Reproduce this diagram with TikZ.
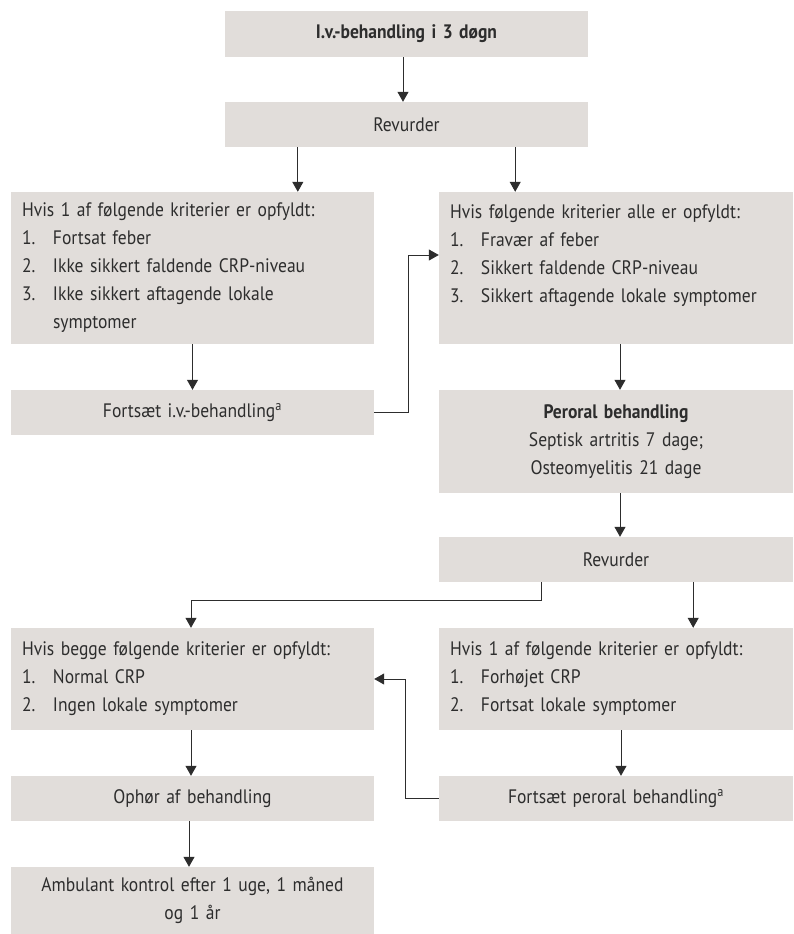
\documentclass[tikz,border=0pt]{standalone}
\usepackage{fontspec}
\setmainfont[FakeStretch=0.9]{PT Sans}
\usetikzlibrary{arrows.meta}
\definecolor{boxgray}{RGB}{225,221,218}
\definecolor{ink}{RGB}{45,45,45}
\newcommand\litem[1]{\makebox[31pt][l]{#1}}
\begin{document}
\begin{tikzpicture}[x=1pt,y=-1pt,
  every node/.style={text=ink, font=\fontsize{19.5}{28}\selectfont},
  wbox/.style={fill=boxgray, inner xsep=11pt, inner ysep=0pt, text width=341pt, minimum height=#1},
  nbox/.style={fill=boxgray, inner xsep=11pt, inner ysep=0pt, text width=332pt, minimum height=#1},
  arr/.style={draw=ink, line width=1pt, -{Triangle[width=11pt,length=10pt]}}]
\useasboundingbox (0,0) rectangle (793,934);

\node[wbox=46pt, align=center] (top) at (406.5,34) {\textbf{I.v.-behandling i 3 døgn}};
\node[wbox=45pt, align=center] (rev1) at (406.5,124.5) {Revurder};

\node[wbox=152pt, align=left] (L1) at (192.5,268) {Hvis 1 af følgende kriterier er opfyldt:\\
\litem{1.}Fortsat feber\\
\litem{2.}Ikke sikkert faldende CRP-niveau\\
\litem{3.}Ikke sikkert aftagende lokale\\
\litem{}symptomer};

\node[nbox=152pt, align=left] (R1) at (616,268) {Hvis følgende kriterier alle er opfyldt:\\
\litem{1.}Fravær af feber\\
\litem{2.}Sikkert faldende CRP-niveau\\
\litem{3.}Sikkert aftagende lokale symptomer\\
\mbox{}};

\node[wbox=45pt, align=center] (Fiv) at (192.5,412.5) {Fortsæt i.v.-behandling\textsuperscript{a}};

\node[nbox=103pt, align=center] (Per) at (616,441.5) {\textbf{Peroral behandling}\\
Septisk artritis 7 dage;\\
Osteomyelitis 21 dage};

\node[nbox=45pt, align=center] (Rev2) at (616,559.5) {Revurder};

\node[wbox=102pt, align=left] (L2) at (192.5,679) {Hvis begge følgende kriterier er opfyldt:\\
\litem{1.}Normal CRP\\
\litem{2.}Ingen lokale symptomer};

\node[nbox=102pt, align=left] (R2) at (616,679) {Hvis 1 af følgende kriterier er opfyldt:\\
\litem{1.}Forhøjet CRP\\
\litem{2.}Fortsat lokale symptomer};

\node[wbox=45pt, align=center] (Oph) at (192.5,798.5) {Ophør af behandling};
\node[nbox=45pt, align=center] (FPer) at (616,798.5) {Fortsæt peroral behandling\textsuperscript{a}};

\node[wbox=67pt, align=center] (Amb) at (192.5,900.5) {Ambulant kontrol efter 1 uge, 1 måned\\
og 1 år};

% connectors
\draw[arr] ([xshift=-3.5pt]top.south) -- ([xshift=-3.5pt]rev1.north);
\draw[arr] ([xshift=73pt]rev1.south west) -- ([xshift=73pt]rev1.south west |- L1.north);
\draw[arr] ([xshift=-73pt]rev1.south east) -- ([xshift=-73pt]rev1.south east |- R1.north);
\draw[arr] (L1.south) -- (Fiv.north);
\draw[arr] ([xshift=4pt]R1.south) -- ([xshift=4pt]Per.north);
\draw[arr] (Fiv.east) -- ++(34,0) |- ([yshift=13pt]R1.west);
\draw[arr] ([xshift=4pt]Per.south) -- ([xshift=4pt]Rev2.north);
\draw[arr] ([xshift=103pt]Rev2.south west) -- ++(0,18) -| ([xshift=-1.5pt]L2.north);
\draw[arr] ([xshift=-100pt]Rev2.south east) -- ([xshift=-100pt]Rev2.south east |- R2.north);
\draw[arr] ([xshift=-1.5pt]L2.south) -- ([xshift=-1.5pt]Oph.north);
\draw[arr] ([xshift=5pt]R2.south) -- ([xshift=5pt]FPer.north);
\draw[arr] (FPer.west) -- ++(-33,0) |- (L2.east);
\draw[arr] ([xshift=-3.5pt]Oph.south) -- ([xshift=-3.5pt]Amb.north);
\end{tikzpicture}
\end{document}
